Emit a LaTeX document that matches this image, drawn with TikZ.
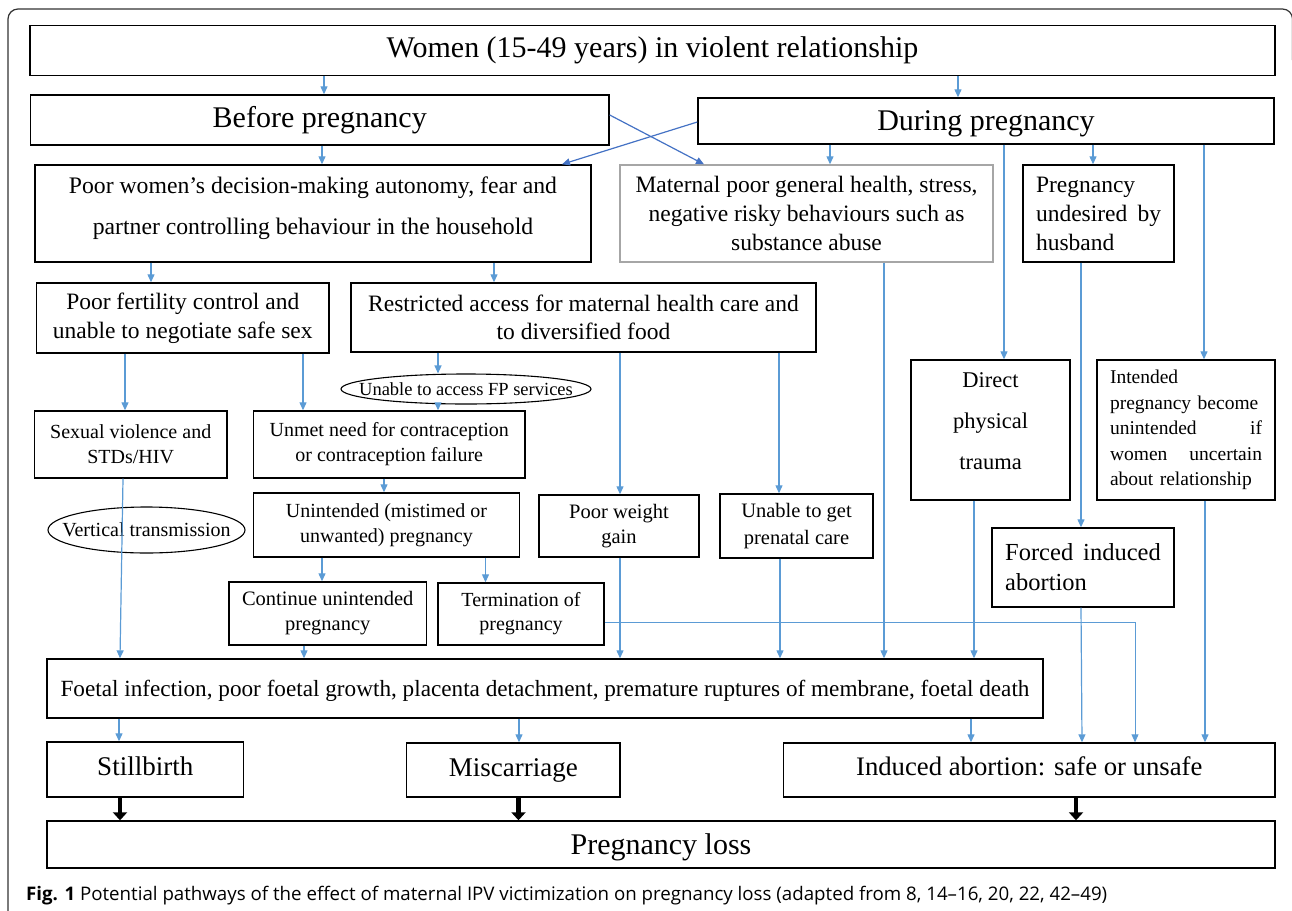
\documentclass[tikz,border=0pt]{standalone}
\usepackage{fontspec}
\setmainfont{Liberation Serif}
\newfontfamily\capfont{Open Sans}
\usepackage{tikz}
\usetikzlibrary{arrows.meta,shapes.geometric}
\definecolor{arrblue}{HTML}{5B9BD5}
\definecolor{xblue}{HTML}{4472C4}
\definecolor{greyline}{HTML}{A6A6A6}
\newcommand{\spreadline}[2]{\leavevmode\hbox to #1{#2}}

\begin{document}
\begin{tikzpicture}[x=1pt,y=-1pt]
	\tikzstyle{every node}+=[inner sep=0pt]
	\tikzstyle{box}=[draw=black, line width=1.4pt, align=center]
	\tikzstyle{oval}=[draw=black, line width=1.1pt, ellipse, align=center]
	\tikzstyle{arr}=[draw=arrblue, line width=1.2pt, -{Triangle[length=8pt,width=7pt]}]
	\tikzstyle{xarr}=[arr, draw=xblue]
	\tikzstyle{bigarr}=[draw=black, line width=4.5pt, -{Triangle[length=8pt,width=14pt]}]
	\useasboundingbox (0,0) rectangle (1292,910);
	\draw [black!80, line width=1.2pt, rounded corners=10pt] (8,915) -- (8,9) -- (1292.5,9) -- (1292.5,60);
	% top rows
	\node [box, minimum width=1245pt, minimum height=50pt, font=\fontsize{30}{34}\selectfont] (women) at (652.5,50.7) {Women (15-49 years) in violent relationship};
	\node [box, minimum width=578.5pt, minimum height=50pt, font=\fontsize{30}{34}\selectfont] (before) at (319.75,120) {Before pregnancy};
	\node [box, minimum width=576pt, minimum height=46pt, text depth=0pt, font=\fontsize{30}{34}\selectfont] (during) at (986,121) {During pregnancy};
	\node [box, minimum width=556pt, minimum height=97pt, text depth=15pt, font=\fontsize{23.7}{41}\selectfont] (autonomy) at (313,213.5) {Poor women's decision-making autonomy, fear and\\partner controlling behaviour in the household};
	\node [box, draw=greyline, minimum width=373pt, minimum height=97pt, font=\fontsize{23.5}{29}\selectfont] (maternal) at (806.5,213.5) {Maternal poor general health, stress,\\negative risky behaviours such as\\substance abuse};
	\node [box, minimum width=151pt, minimum height=97pt, text width=125pt, align=left, font=\fontsize{23.5}{29}\selectfont] (undesired) at (1098.5,213.5) {Pregnancy\\\spreadline{125pt}{undesired\hfill by}\\husband};
	% middle rows
	\node [box, minimum width=292.5pt, minimum height=70pt, font=\fontsize{23.5}{29}\selectfont] (fertility) at (182.75,318) {Poor fertility control and\\unable to negotiate safe sex};
	\node [box, minimum width=465pt, minimum height=69pt, font=\fontsize{23.5}{28}\selectfont] (access) at (583.5,317.5) {Restricted access for maternal health care and\\to diversified food};
	\node [oval, minimum width=250pt, minimum height=30pt, inner xsep=-19pt, font=\fontsize{18.5}{20}\selectfont] (fpserv) at (466,389) {Unable to access FP services};
	\node [box, minimum width=192.6pt, minimum height=67pt, font=\fontsize{20}{25}\selectfont] (sexual) at (130.7,444.5) {Sexual violence and\\STDs/HIV};
	\node [box, minimum width=271.5pt, minimum height=67pt, font=\fontsize{20}{25}\selectfont] (unmet) at (389.25,444.5) {Unmet need for contraception\\or contraception failure};
	\node [oval, minimum width=197pt, minimum height=46pt, inner xsep=-16pt, font=\fontsize{20}{24}\selectfont] (vertical) at (146.5,530) {Vertical transmission};
	\node [box, minimum width=159pt, minimum height=140pt, text depth=18pt, font=\fontsize{22.5}{41}\selectfont] (trauma) at (990.5,430) {Direct\\physical\\trauma};
	\node [box, minimum width=178pt, minimum height=140pt, text width=152pt, align=left, font=\fontsize{19.5}{25.5}\selectfont] (intended) at (1186,430) {Intended\\\mbox{pregnancy become}\\\spreadline{152pt}{unintended\hfill if}\\\spreadline{152pt}{women\hfill uncertain}\\\mbox{about relationship}};
	\node [box, minimum width=266pt, minimum height=64pt, font=\fontsize{20}{25}\selectfont] (unintended) at (386.5,525) {Unintended (mistimed or\\unwanted) pregnancy};
	\node [box, minimum width=160pt, minimum height=62pt, font=\fontsize{20.5}{25}\selectfont] (weight) at (619,526) {Poor weight\\gain};
	\node [box, minimum width=153pt, minimum height=64pt, font=\fontsize{20.5}{27}\selectfont] (prenatal) at (796.5,526) {Unable to get\\prenatal care};
	\node [box, minimum width=182pt, minimum height=79pt, text width=155.6pt, align=left, font=\fontsize{24.5}{30}\selectfont] (forced) at (1083,567.5) {\spreadline{155.6pt}{Forced\hfill induced}\\abortion};
	\node [box, minimum width=197.5pt, minimum height=63pt, font=\fontsize{20.5}{25}\selectfont] (continue) at (327.75,613.5) {Continue unintended\\pregnancy};
	\node [box, minimum width=166pt, minimum height=62pt, font=\fontsize{20}{24}\selectfont] (termination) at (521,614) {Termination of\\pregnancy};
	% bottom rows
	\node [box, minimum width=996pt, minimum height=59pt, text depth=0pt, font=\fontsize{23.2}{26}\selectfont] (foetal) at (545,688.5) {Foetal infection, poor foetal growth, placenta detachment, premature ruptures of membrane, foetal death};
	\node [box, minimum width=196.5pt, minimum height=55pt, text depth=7pt, font=\fontsize{27}{30}\selectfont] (stillbirth) at (145.25,769.5) {Stillbirth};
	\node [box, minimum width=213.5pt, minimum height=54pt, font=\fontsize{27}{30}\selectfont] (miscarriage) at (513.25,770) {Miscarriage};
	\node [box, minimum width=491.5pt, minimum height=54pt, text depth=7pt, font=\fontsize{26.7}{30}\selectfont] (induced) at (1029.25,770) {Induced abortion: safe or unsafe};
	\node [box, minimum width=1228pt, minimum height=47pt, text depth=0pt, font=\fontsize{30}{34}\selectfont] (loss) at (661,844.5) {Pregnancy loss};
	\node [anchor=base west, font=\capfont\fontsize{18.7}{22}\selectfont] (caption) at (26,900) {\textbf{Fig. 1} Potential pathways of the effect of maternal IPV victimization on pregnancy loss (adapted from 8, 14–16, 20, 22, 42–49)};
	% connectors
	\draw [arr] (324,0 |- women.south) -- (324,0 |- before.north);
	\draw [arr] (958,0 |- women.south) -- (958,0 |- during.north);
	\draw [arr] (322,0 |- before.south) -- (322,0 |- autonomy.north);
	\draw [xarr] (before.east |- 0,115) -- (704,0 |- maternal.north);
	\draw [xarr] (during.west |- 0,122) -- (562,0 |- autonomy.north);
	\draw [arr] (830,0 |- during.south) -- (830,0 |- maternal.north);
	\draw [arr] (1093,0 |- during.south) -- (1093,0 |- undesired.north);
	\draw [arr] (1004,0 |- during.south) -- (1004,0 |- trauma.north);
	\draw [arr] (1204,0 |- during.south) -- (1204,0 |- intended.north);
	\draw [arr] (884,0 |- maternal.south) -- (884,0 |- foetal.north);
	\draw [arr] (1081,0 |- undesired.south) -- (1081,0 |- forced.north);
	\draw [arr] (151,0 |- autonomy.south) -- (151,0 |- fertility.north);
	\draw [arr] (494,0 |- autonomy.south) -- (494,0 |- access.north);
	\draw [arr] (125,0 |- fertility.south) -- (125,0 |- sexual.north);
	\draw [arr] (303,0 |- fertility.south) -- (303,0 |- unmet.north);
	\draw [arr] (438,0 |- access.south) -- (438,0 |- fpserv.north);
	\draw [arr] (438,0 |- fpserv.south) -- (438,0 |- unmet.north);
	\draw [arr] (620,0 |- access.south) -- (620,0 |- weight.north);
	\draw [arr] (779,0 |- access.south) -- (779,0 |- prenatal.north);
	\draw [arr] (123,0 |- sexual.south) -- (120,0 |- foetal.north);
	\draw [arr] (384,0 |- unmet.south) -- (384,0 |- unintended.north);
	\draw [arr] (322,0 |- unintended.south) -- (322,0 |- continue.north);
	\draw [arr] (485.5,0 |- unintended.south) -- (485.5,0 |- termination.north);
	\draw [arr] (304,0 |- continue.south) -- (304,0 |- foetal.north);
	\draw [arr] (620,0 |- weight.south) -- (620,0 |- foetal.north);
	\draw [arr] (780,0 |- prenatal.south) -- (780,0 |- foetal.north);
	\draw [arr] (974,0 |- trauma.south) -- (974,0 |- foetal.north);
	\draw [arr, line width=0.9pt] (termination.east |- 0,622) -- (1135,622) -- (1135,0 |- induced.north);
	\draw [arr] (1081,0 |- forced.south) -- (1082,0 |- induced.north);
	\draw [arr] (1205,0 |- intended.south) -- (1205,0 |- induced.north);
	\draw [arr] (119,0 |- foetal.south) -- (119,0 |- stillbirth.north);
	\draw [arr] (519,0 |- foetal.south) -- (519,0 |- miscarriage.north);
	\draw [arr] (971,0 |- foetal.south) -- (971,0 |- induced.north);
	\draw [bigarr] (120,0 |- stillbirth.south) -- (120,0 |- loss.north);
	\draw [bigarr] (518.5,0 |- miscarriage.south) -- (518.5,0 |- loss.north);
	\draw [bigarr] (1076,0 |- induced.south) -- (1076,0 |- loss.north);
\end{tikzpicture}
\end{document}
